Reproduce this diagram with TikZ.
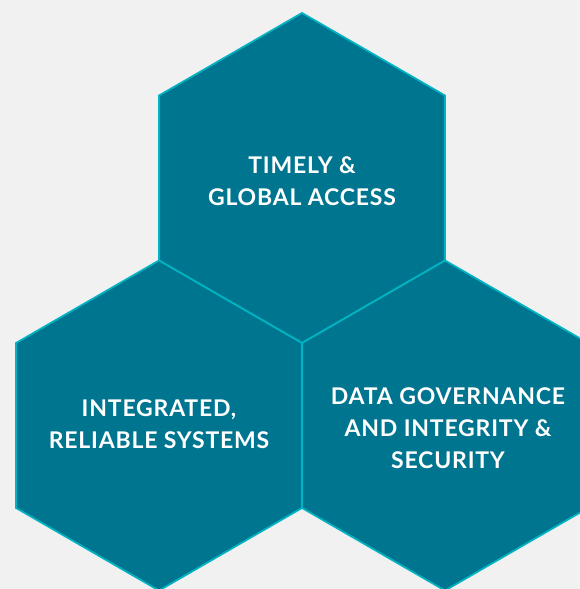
\documentclass[tikz,border=0pt]{standalone}
\usepackage{fontspec}
\setmainfont{Lato}[LetterSpace=3.5]
\usetikzlibrary{shapes.geometric}
\definecolor{bgc}{HTML}{F1F1F1}
\definecolor{hexfill}{HTML}{00758F}
\definecolor{hexline}{HTML}{00B2C2}
\tikzset{
  hexa/.style={regular polygon, regular polygon sides=6, shape border rotate=30,
    minimum size=330pt, inner sep=0pt, outer sep=0pt,
    fill=hexfill, draw=hexline, line width=1.8pt},
  hexlabel/.style={text=white, align=center, inner sep=0pt,
    font=\bfseries\fontsize{23}{32}\selectfont}
}
\begin{document}
\begin{tikzpicture}[x=1pt,y=-1pt]
  \fill[bgc] (0,0) rectangle (580,589);
  \useasboundingbox (0,0) rectangle (580,589);
  \clip (0,0) rectangle (580,589);
  \node[hexa] (top) at (302,178) {};
  \node[hexa] (left) at (159,425.5) {};
  \node[hexa] (right) at (445,425.5) {};
  \node[hexlabel] (toplabel) at (302,181.5) {TIMELY \&\\GLOBAL ACCESS};
  \node[hexlabel] (leftlabel) at (159,424.5) {INTEGRATED,\\RELIABLE SYSTEMS};
  \node[hexlabel] (rightlabel) at (448,428) {DATA GOVERNANCE\\AND INTEGRITY \&\\SECURITY};
\end{tikzpicture}
\end{document}
